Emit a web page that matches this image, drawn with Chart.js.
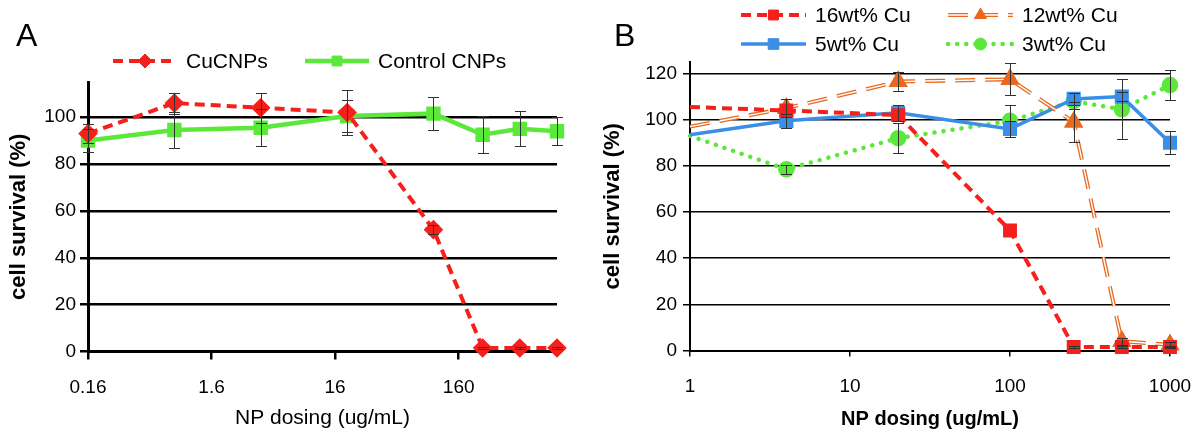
<!DOCTYPE html>
<html>
<head>
<meta charset="utf-8">
<script src="https://cdn.jsdelivr.net/npm/chart.js@4.4.1/dist/chart.umd.min.js"></script>
<style>
body { margin: 0; background: #fff; }
#wrap { position: relative; width: 1200px; height: 434px; }
.panel { position: absolute; top: 0; width: 600px; height: 434px; }
.tag { position: absolute; top: 19px; font: 32px "Liberation Sans", Arial, sans-serif; line-height: 1; color: #000; }
</style>
</head>
<body>
<div id="wrap">
  <div class="panel" style="left:0"><canvas id="chartA" width="600" height="434"></canvas></div>
  <div class="panel" style="left:600px"><canvas id="chartB" width="600" height="434"></canvas></div>
  <div class="tag" style="left:16px">A</div>
  <div class="tag" style="left:614px">B</div>
</div>
<script>
// ---- panel A data ----
const dosesA = [0.16, 0.8, 4, 20, 100, 250, 500, 1000];
const cuCNPs = [93, 106, 104, 102, 52, 1.5, 1.5, 1.5];
const cuCNPsErr = [4, 4.5, 6.5, 9.5, 2, 0.5, 0.5, 0.5];
const controlCNPs = [90, 94.5, 95.5, 100.5, 101.5, 92.5, 95, 94];
const controlCNPsErr = [5, 7.5, 8, 7, 7, 8, 7.5, 6];
const xTicksA = [0.16, 1.6, 16, 160];
const yTicksA = [0, 20, 40, 60, 80, 100];

// ---- panel B data ----
const dosesB = [1, 4, 20, 100, 250, 500, 1000];
const cu16 = [105.5, 104, 102, 52, 1.5, 1.5, 1.5];
const cu16Err = [0, 0, 0, 0, 0.5, 0.5, 0.5];
const cu12 = [97, 105, 116.5, 117.5, 99, 4, 2.5];
const cu12Err = [0, 4, 4, 7, 8.5, 1.5, 1];
const cu5 = [93.5, 99.5, 103, 96, 109, 110, 90];
const cu5Err = [0, 3, 3.5, 3.5, 2.5, 2, 5];
const cu3 = [93, 78.5, 92, 99.5, 108, 104.5, 115];
const cu3Err = [0, 2, 6.5, 7, 3.5, 13, 6.5];
const xTicksB = [1, 10, 100, 1000];
const yTicksB = [0, 20, 40, 60, 80, 100, 120];

const FONT = '"Liberation Sans", Arial, Helvetica, sans-serif';
Chart.defaults.font.family = FONT;
Chart.defaults.color = '#000';

const RED = '#f5201c';
const GREEN = '#5ce83a';
const ORANGE = '#e8691e';
const BLUE = '#3b8ee6';

function pts(xs, ys) {
	return xs.map((x, i) => ({ x: x, y: ys[i] }));
}

// legend drawn by hand: line segment with marker in the middle, like the original
const seriesLegend = {
	id : 'seriesLegend',
	afterDraw(chart, args, opts) {
		const ctx = chart.ctx;
		opts.items.forEach((it) => {
			const ds = chart.data.datasets[it.index];
			const len = opts.lineLen;
			ctx.save();
			ctx.strokeStyle = ds.borderColor;
			ctx.lineWidth = ds.borderWidth;
			ctx.setLineDash(ds.borderDash || []);
			ctx.lineCap = ds.borderCapStyle || 'butt';
			ctx.beginPath();
			ctx.moveTo(it.x, it.y);
			ctx.lineTo(it.x + len, it.y);
			ctx.stroke();
			if (ds.innerColor) {
				ctx.strokeStyle = ds.innerColor;
				ctx.lineWidth = ds.innerWidth;
				ctx.stroke();
			}
			ctx.setLineDash([]);
			ctx.fillStyle = ds.pointBackgroundColor;
			ctx.strokeStyle = ds.pointBorderColor;
			ctx.lineWidth = 1;
			Chart.helpers.drawPoint(ctx, { pointStyle: ds.pointStyle, radius: ds.legendRadius, borderWidth: 1, rotation: 0 }, it.x + len / 2, it.y);
			ctx.fillStyle = '#000';
			ctx.font = opts.font;
			ctx.textBaseline = 'middle';
			ctx.fillText(ds.label, it.x + len + opts.gap, it.y + 1);
			ctx.restore();
		});
	}
};

// orange series has hollow looking dashes
const hollowDash = {
	id : 'hollowDash',
	afterDatasetDraw(chart, args) {
		const ds = chart.data.datasets[args.index];
		if (!ds.innerColor) return;
		const p = args.meta.data;
		const ctx = chart.ctx;
		ctx.save();
		ctx.strokeStyle = ds.innerColor;
		ctx.lineWidth = ds.innerWidth;
		ctx.setLineDash(ds.borderDash);
		ctx.beginPath();
		ctx.moveTo(p[0].x, p[0].y);
		for (let i = 1; i < p.length; i++) ctx.lineTo(p[i].x, p[i].y);
		ctx.stroke();
		ctx.restore();
		p.forEach((pt) => pt.draw(ctx, chart.chartArea));
	}
};

const errorBars = {
	id : 'errorBars',
	afterDatasetsDraw(chart) {
		const ctx = chart.ctx;
		const yScale = chart.scales.y;
		ctx.save();
		ctx.strokeStyle = '#333';
		ctx.lineWidth = 1;
		chart.data.datasets.forEach((ds, i) => {
			if (!ds.errors) return;
			chart.getDatasetMeta(i).data.forEach((pt, j) => {
				const e = ds.errors[j];
				if (!e) return;
				const v = ds.data[j].y;
				const top = Math.round(yScale.getPixelForValue(v + e)) + 0.5;
				const bot = Math.round(yScale.getPixelForValue(v - e)) + 0.5;
				const x = Math.round(pt.x) + 0.5;
				ctx.beginPath();
				ctx.moveTo(x, top);
				ctx.lineTo(x, bot);
				ctx.moveTo(x - 5.5, top);
				ctx.lineTo(x + 5.5, top);
				ctx.moveTo(x - 5.5, bot);
				ctx.lineTo(x + 5.5, bot);
				ctx.stroke();
			});
		});
		ctx.restore();
	}
};

function makeScales(cfg) {
	return {
		x : {
			type            : 'logarithmic',
			min             : cfg.xMin,
			max             : cfg.xMax,
			afterBuildTicks : (s) => { s.ticks = cfg.xTicks.map((v) => ({ value: v })); },
			afterFit        : (s) => {
				s.height = cfg.xHeight;
				// labels may hang over the ends, do not shrink the plot for them
				s.paddingLeft = 0;
				s.paddingRight = 0;
			},
			ticks           : {
				callback    : (v) => String(v),
				autoSkip    : false,
				maxRotation : 0,
				padding     : cfg.xPad,
				font        : { size: 19 },
				color       : '#000'
			},
			grid            : { drawOnChartArea: false, drawTicks: true, tickLength: cfg.xTickLen, color: '#000', lineWidth: cfg.gridW },
			border          : { color: '#000', width: cfg.axisW },
			title           : {
				display : true,
				text    : 'NP dosing (ug/mL)',
				color   : '#000',
				font    : { size: cfg.xTitleSize, weight: cfg.xTitleWeight },
				padding : { top: 0, bottom: 3 }
			}
		},
		y : {
			min             : 0,
			max             : cfg.yMax,
			afterBuildTicks : (s) => { s.ticks = cfg.yTicks.map((v) => ({ value: v })); },
			afterFit        : (s) => { s.width = cfg.yWidth; },
			ticks           : { padding: cfg.yPad, font: { size: 19 }, color: '#000' },
			grid            : { color: '#000', lineWidth: cfg.gridW, tickLength: cfg.yTickLen },
			border          : { color: '#000', width: cfg.axisW },
			title           : {
				display : true,
				text    : 'cell survival (%)',
				color   : '#000',
				font    : { size: 22, weight: 'bold' },
				padding : { top: cfg.yTitlePad, bottom: 0 }
			}
		}
	};
}

//                                //
// - - - - - Panel A - - - - - //
//                                //

let ctxA = document.getElementById('chartA').getContext('2d');

let chartA = new Chart(ctxA, {
	type    : 'line',
	data    : {
		datasets : [
			{
				label                : 'CuCNPs',
				data                 : pts(dosesA, cuCNPs),
				errors               : cuCNPsErr,
				borderColor          : RED,
				borderWidth          : 4,
				borderDash           : [10, 6],
				pointStyle           : 'rectRot',
				pointRadius          : 7,
				legendRadius         : 7,
				pointBackgroundColor : RED,
				pointBorderColor     : RED,
				clip                 : false
			},
			{
				label                : 'Control CNPs',
				data                 : pts(dosesA, controlCNPs),
				errors               : controlCNPsErr,
				borderColor          : GREEN,
				borderWidth          : 4.5,
				pointStyle           : 'rect',
				pointRadius          : 7,
				legendRadius         : 7,
				pointBackgroundColor : GREEN,
				pointBorderColor     : GREEN,
				clip                 : false
			}
		]
	},
	options : {
		responsive       : false,
		animation        : false,
		devicePixelRatio : 1,
		layout           : { padding: { top: 82, right: 43, left: 0, bottom: 0 } },
		plugins          : {
			legend       : { display: false },
			tooltip      : { enabled: false },
			seriesLegend : {
				font    : '21px ' + FONT,
				lineLen : 64,
				gap     : 9,
				items   : [
					{ index: 0, x: 113, y: 61 },
					{ index: 1, x: 305, y: 61 }
				]
			}
		},
		scales           : makeScales({
			xMin : 0.16, xMax : 1000, xTicks : xTicksA, xHeight : 82.5, xPad : 17, xTickLen : 8,
			xTitleSize : 21, xTitleWeight : 'normal',
			yMax : 115, yTicks : yTicksA, yWidth : 88, yPad : 4, yTickLen : 8, yTitlePad : 6,
			gridW : 2.5, axisW : 3
		})
	},
	plugins : [ seriesLegend, errorBars ]
});

//                                //
// - - - - - Panel B - - - - - //
//                                //

let ctxB = document.getElementById('chartB').getContext('2d');

// the series start at the axis edge, no marker drawn there
const hideFirst = (r) => (c) => (c.dataIndex === 0 ? 0 : r);

let chartB = new Chart(ctxB, {
	type    : 'line',
	data    : {
		datasets : [
			{
				label                : '16wt% Cu',
				data                 : pts(dosesB, cu16),
				errors               : cu16Err,
				borderColor          : RED,
				borderWidth          : 4,
				borderDash           : [10, 6],
				pointStyle           : 'rect',
				pointRadius          : hideFirst(7),
				legendRadius         : 7,
				pointBackgroundColor : RED,
				pointBorderColor     : RED,
				clip                 : false
			},
			{
				label                : '12wt% Cu',
				data                 : pts(dosesB, cu12),
				errors               : cu12Err,
				borderColor          : ORANGE,
				borderWidth          : 4,
				borderDash           : [20, 10],
				innerColor           : '#fff',
				innerWidth           : 1.4,
				pointStyle           : 'triangle',
				pointRadius          : hideFirst(7),
				legendRadius         : 7,
				pointBackgroundColor : ORANGE,
				pointBorderColor     : ORANGE,
				clip                 : false
			},
			{
				label                : '5wt% Cu',
				data                 : pts(dosesB, cu5),
				errors               : cu5Err,
				borderColor          : BLUE,
				borderWidth          : 3.5,
				pointStyle           : 'rect',
				pointRadius          : hideFirst(7.5),
				legendRadius         : 7.5,
				pointBackgroundColor : BLUE,
				pointBorderColor     : BLUE,
				clip                 : false
			},
			{
				label                : '3wt% Cu',
				data                 : pts(dosesB, cu3),
				errors               : cu3Err,
				borderColor          : GREEN,
				borderWidth          : 4.5,
				borderDash           : [0.1, 9],
				borderCapStyle       : 'round',
				pointStyle           : 'circle',
				pointRadius          : hideFirst(6),
				legendRadius         : 6,
				pointBackgroundColor : GREEN,
				pointBorderColor     : GREEN,
				clip                 : false
			}
		]
	},
	options : {
		responsive       : false,
		animation        : false,
		devicePixelRatio : 1,
		layout           : { padding: { top: 62, right: 30, left: 0, bottom: 0 } },
		plugins          : {
			legend       : { display: false },
			tooltip      : { enabled: false },
			seriesLegend : {
				font    : '21px ' + FONT,
				lineLen : 65,
				gap     : 9,
				items   : [
					{ index: 0, x: 141, y: 15 },
					{ index: 1, x: 348, y: 15 },
					{ index: 2, x: 141, y: 44 },
					{ index: 3, x: 348, y: 44 }
				]
			}
		},
		scales           : makeScales({
			xMin : 1, xMax : 1000, xTicks : xTicksB, xHeight : 83.5, xPad : 19, xTickLen : 6,
			xTitleSize : 20, xTitleWeight : 'bold',
			yMax : 125, yTicks : yTicksB, yWidth : 90, yPad : 6, yTickLen : 7, yTitlePad : 0,
			gridW : 1.5, axisW : 2
		})
	},
	plugins : [ seriesLegend, hollowDash, errorBars ]
});
</script>
</body>
</html>
